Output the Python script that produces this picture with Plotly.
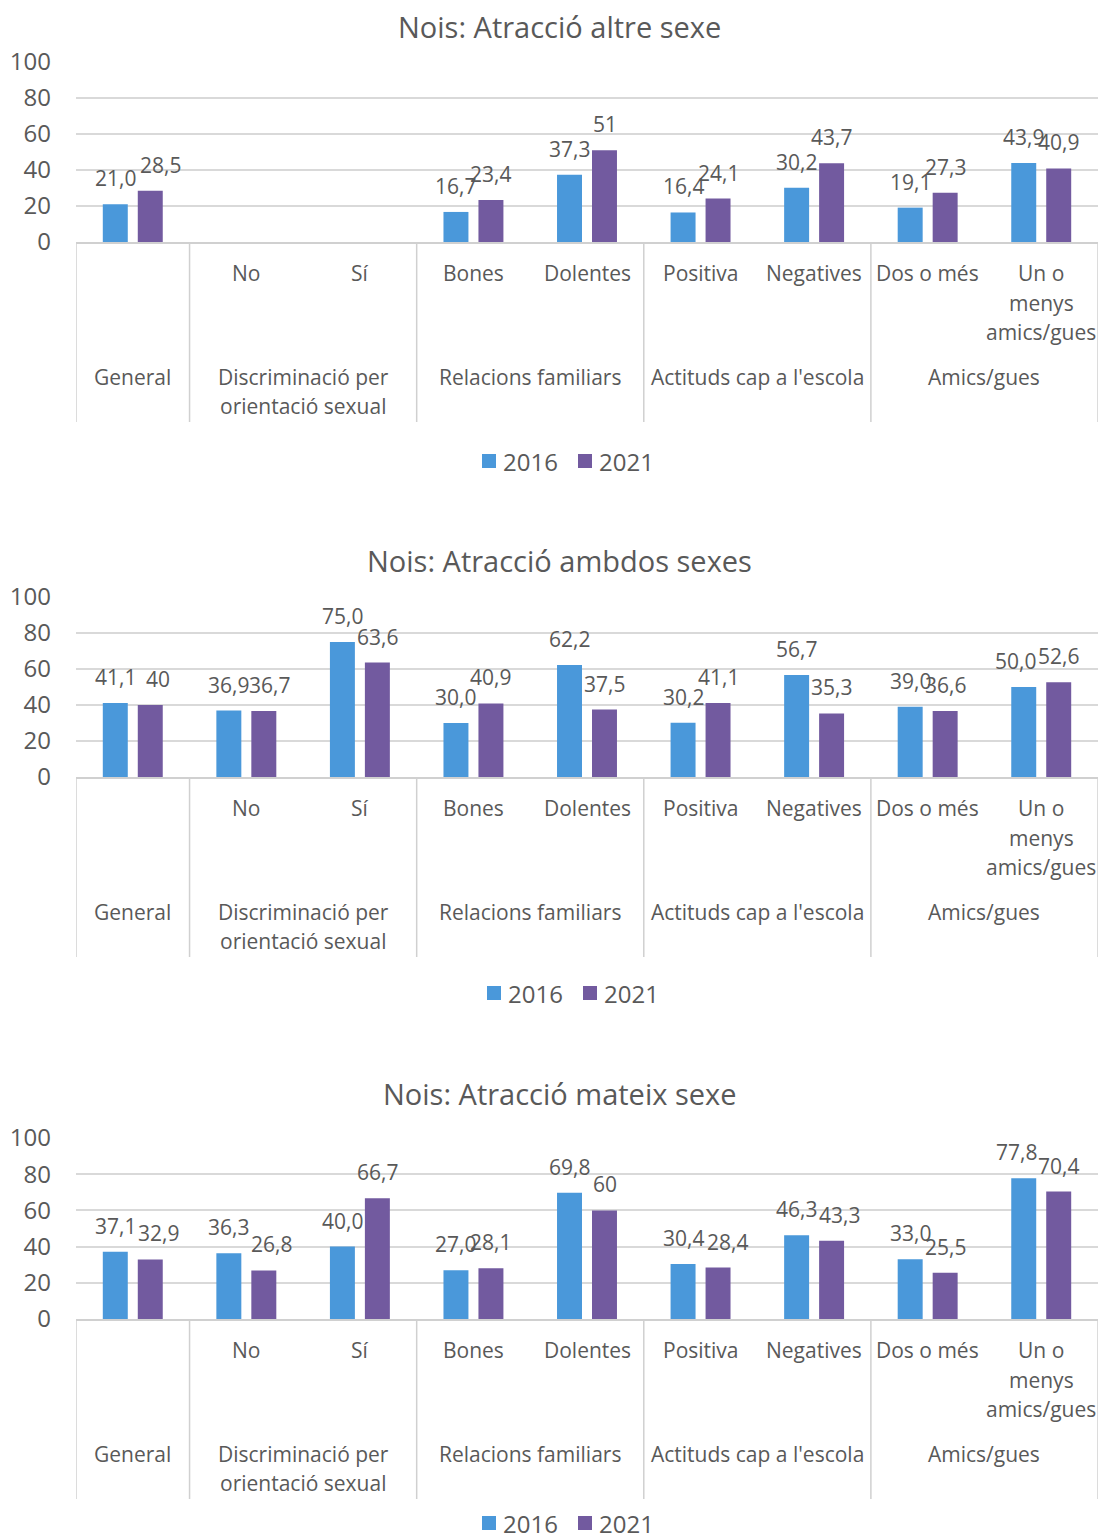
import plotly.graph_objects as go

FIG_W, FIG_H = 1100, 1533
FONT = "Open Sans"
TEXT = "#595959"
GRID = "#D9D9D9"
AXIS = "#D0D0D0"

# ---- data -------------------------------------------------------------
categories = ["General", "No", "Sí", "Bones", "Dolentes", "Positiva",
              "Negatives", "Dos o més", "Un o menys amics/gues"]
sub_labels = [[], ["No"], ["Sí"], ["Bones"], ["Dolentes"], ["Positiva"],
              ["Negatives"], ["Dos o més"], ["Un o", "menys", "amics/gues"]]
group_labels = [["General"], ["Discriminació per", "orientació sexual"],
                ["Relacions familiars"], ["Actituds cap a l'escola"],
                ["Amics/gues"]]
group_spans = [(0, 0), (1, 2), (3, 4), (5, 6), (7, 8)]

years = ["2016", "2021"]
year_colors = ["#4A98DA", "#725A9F"]

titles = ["Nois: Atracció altre sexe",
          "Nois: Atracció ambdos sexes",
          "Nois: Atracció mateix sexe"]

altre_2016 = [21.0, None, None, 16.7, 37.3, 16.4, 30.2, 19.1, 43.9]
altre_2021 = [28.5, None, None, 23.4, 51, 24.1, 43.7, 27.3, 40.9]
ambdos_2016 = [41.1, 36.9, 75.0, 30.0, 62.2, 30.2, 56.7, 39.0, 50.0]
ambdos_2021 = [40, 36.7, 63.6, 40.9, 37.5, 41.1, 35.3, 36.6, 52.6]
mateix_2016 = [37.1, 36.3, 40.0, 27.0, 69.8, 30.4, 46.3, 33.0, 77.8]
mateix_2021 = [32.9, 26.8, 66.7, 28.1, 60, 28.4, 43.3, 25.5, 70.4]

panels_data = [(altre_2016, altre_2021),
               (ambdos_2016, ambdos_2021),
               (mateix_2016, mateix_2021)]

# ---- panel geometry (pixels from the top of the page) ------------------
PLOT_LEFT, PLOT_RIGHT = 76, 1098
panel_px = [  # (y of 100, y of 0, title y, legend y, legend left x)
    (62, 242, 27, 461, 482),
    (597, 777, 560, 993, 487),
    (1138, 1319, 1093, 1523, 482),
]

# small horizontal nudges (px) for value labels that would collide
# key: (panel, series index, category)
label_nudge = {
    (0, 1, "General"): 10,
    (1, 1, "General"): 8,
    (1, 1, "No"): 6,
    (1, 0, "Un o menys amics/gues"): -8,
    (2, 1, "General"): 8,
    (2, 1, "No"): 8,
    (2, 1, "Positiva"): 9,
    (2, 1, "Negatives"): 8,
    (2, 0, "Un o menys amics/gues"): -7,
}


def py(y_px):
    return 1 - y_px / FIG_H


def px(x_px):
    return x_px / FIG_W


def fmt(v, decimals):
    if v is None:
        return None
    s = f"{v:.1f}" if decimals else f"{v:g}"
    return s.replace(".", ",")


fig = go.Figure()
annotations = []
shapes = []
layout_axes = {}
BAR_SHIFT = 17.5
SWATCH = 14
LEGEND_STEP = 96

for p, ((top, bottom, title_y, legend_y, legend_x), series) in enumerate(zip(panel_px, panels_data)):
    sfx = "" if p == 0 else str(p + 1)
    xa, ya = "x" + sfx, "y" + sfx

    for k, (year, color, vals) in enumerate(zip(years, year_colors, series)):
        fig.add_trace(go.Bar(
            x=categories, y=vals, name=year,
            marker=dict(color=color, line=dict(width=0)),
            xaxis=xa, yaxis=ya, showlegend=False,
            hoverinfo="skip",
        ))
        # value labels above each bar
        for cat, v in zip(categories, vals):
            if v is None:
                continue
            base = -BAR_SHIFT if k == 0 else BAR_SHIFT
            annotations.append(dict(
                x=cat, y=v, xref=xa, yref=ya,
                text=fmt(v, decimals=(k == 0)), showarrow=False,
                xanchor="center", yanchor="bottom",
                xshift=base + label_nudge.get((p, k, cat), 0), yshift=10,
                font=dict(family=FONT, size=21, color=TEXT),
            ))

        # legend entry: colour swatch + year
        lx = legend_x + k * LEGEND_STEP
        shapes.append(dict(
            type="rect", xref="paper", yref="paper",
            x0=px(lx), x1=px(lx + SWATCH),
            y0=py(legend_y + SWATCH / 2), y1=py(legend_y - SWATCH / 2),
            fillcolor=color, line=dict(width=0),
        ))
        annotations.append(dict(
            x=px(lx + SWATCH + 5), y=py(legend_y), xref="paper", yref="paper",
            text=year, showarrow=False, xanchor="left", yanchor="middle",
            font=dict(family=FONT, size=24, color=TEXT),
        ))

    layout_axes["xaxis" + sfx] = dict(
        domain=[px(PLOT_LEFT), px(PLOT_RIGHT)], anchor=ya,
        type="category", range=[-0.5, len(categories) - 0.5],
        showticklabels=False, ticks="", showgrid=False,
        showline=True, linecolor=AXIS, linewidth=1.5, zeroline=False,
        automargin=False, fixedrange=True,
    )
    layout_axes["yaxis" + sfx] = dict(
        domain=[py(bottom), py(top)], anchor=xa,
        range=[0, 100], dtick=20, tick0=0,
        showgrid=True, gridcolor=GRID, gridwidth=1.5,
        zeroline=False, showline=False, ticks="",
        ticklabelstandoff=24,
        tickfont=dict(family=FONT, size=24, color=TEXT),
        automargin=False, fixedrange=True,
    )

    # panel title
    annotations.append(dict(
        x=px(560), y=py(title_y), xref="paper", yref="paper",
        text=titles[p], showarrow=False, xanchor="center", yanchor="middle",
        font=dict(family=FONT, size=29, color=TEXT),
    ))

    # subcategory labels
    for i, lines in enumerate(sub_labels):
        for j, line in enumerate(lines):
            annotations.append(dict(
                x=i, y=py(bottom + 31 + 29.5 * j), xref=xa, yref="paper",
                text=line, showarrow=False, xanchor="center", yanchor="middle",
                font=dict(family=FONT, size=21, color=TEXT),
            ))

    # group labels
    for (i0, i1), lines in zip(group_spans, group_labels):
        for j, line in enumerate(lines):
            annotations.append(dict(
                x=(i0 + i1) / 2, y=py(bottom + 135 + 29 * j), xref=xa, yref="paper",
                text=line, showarrow=False, xanchor="center", yanchor="middle",
                font=dict(family=FONT, size=21, color=TEXT),
            ))

    # vertical separators between the category groups
    edges = [i0 - 0.5 for i0, _ in group_spans] + [group_spans[-1][1] + 0.5]
    for e in edges:
        shapes.append(dict(
            type="line", xref=xa, yref="paper",
            x0=e, x1=e, y0=py(bottom), y1=py(bottom + 180),
            line=dict(color=AXIS, width=1.5),
        ))

fig.update_layout(
    width=FIG_W, height=FIG_H,
    margin=dict(l=0, r=0, t=0, b=0, autoexpand=False),
    paper_bgcolor="white", plot_bgcolor="white",
    barmode="group", bargap=0.384, bargroupgap=0.286,
    showlegend=False,
    annotations=annotations, shapes=shapes,
    font=dict(family=FONT, color=TEXT),
    **layout_axes,
)

fig.write_html("out.html", config={"displayModeBar": False})
